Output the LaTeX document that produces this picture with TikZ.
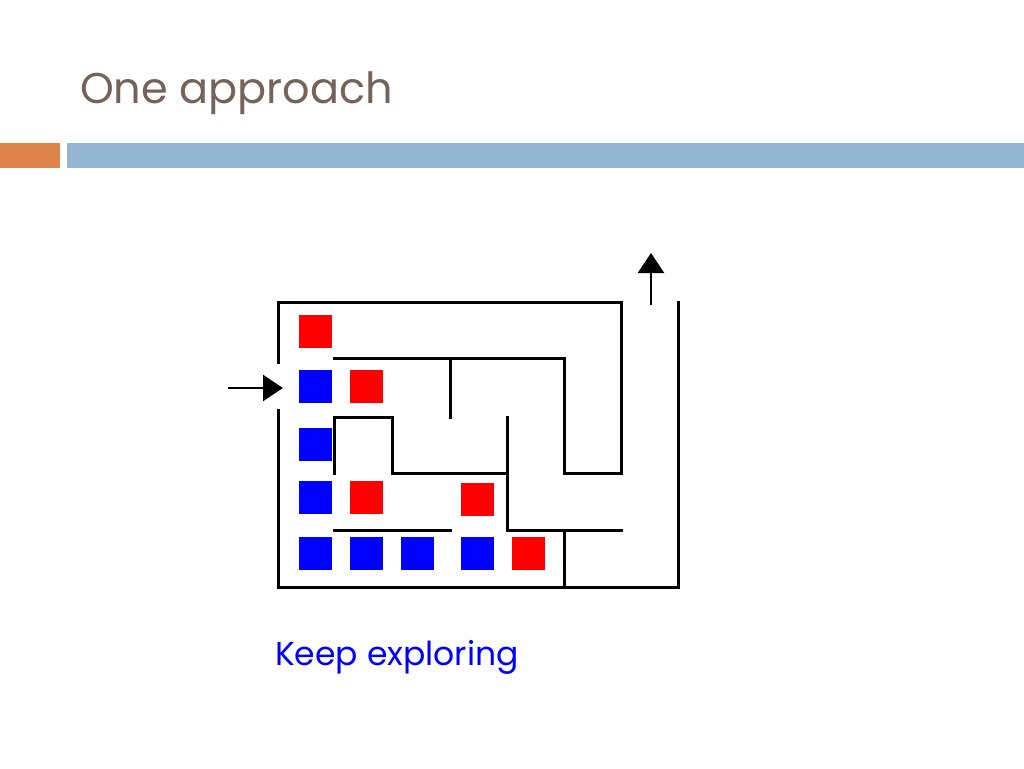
\documentclass[tikz,border=0pt]{standalone}
\usepackage{fontspec}
\usetikzlibrary{arrows.meta}
\setmainfont{Poppins}
\begin{document}
\begin{tikzpicture}[x=1pt,y=-1pt,
 wall/.style={line width=3pt,line cap=rect},
 rsq/.style={fill=red,draw=none,minimum size=33pt,inner sep=0,anchor=north west},
 bsq/.style={fill=blue,draw=none,minimum size=33pt,inner sep=0,anchor=north west},
 arr/.style={line width=2.5pt,-{Triangle[length=20pt,width=26pt]}}]
\useasboundingbox (0,0) rectangle (1024,768);
\fill[fill={rgb,255:red,221;green,132;blue,74}] (0,143) rectangle (60,168);
\fill[fill={rgb,255:red,148;green,182;blue,210}] (67,143) rectangle (1024,168);
\node[anchor=base west,inner sep=0,text={rgb,255:red,117;green,98;blue,89},font=\fontsize{43}{48}\selectfont] (title) at (80,103) {One approach};
\draw[wall] (278,362)--(278,302)--(621,302)--(621,473)--(564,473)--(564,358)--(334,358);
\draw[wall] (278,410)--(278,587)--(678,587)--(678,302);
\draw[wall] (450,358)--(450,417);
\draw[wall] (334,473)--(334,417)--(392,417)--(392,473)--(507,473);
\draw[wall] (507,417)--(507,530)--(621,530);
\draw[wall] (334,530)--(450,530);
\draw[wall] (564,530)--(564,587);
\coordinate (a1) at (228,388); \coordinate (a2) at (283,388);
\draw[arr] (a1)--(a2);
\coordinate (b1) at (651,305); \coordinate (b2) at (651,253);
\draw[arr] (b1)--(b2);
\node[rsq] (r1) at (299,315) {};
\node[bsq] (b11) at (299,370) {}; \node[rsq] (r2) at (350,370) {};
\node[bsq] (b12) at (299,428) {};
\node[bsq] (b13) at (299,481) {}; \node[rsq] (r3) at (350,481) {}; \node[rsq] (r4) at (461,483) {};
\node[bsq] (c1) at (299,537) {}; \node[bsq] (c2) at (350,537) {}; \node[bsq] (c3) at (401,537) {}; \node[bsq] (c4) at (461,537) {}; \node[rsq] (c5) at (512,537) {};
\node[anchor=base west,inner sep=0,text=blue,font=\fontsize{33}{38}\selectfont] (keep) at (275,665) {Keep exploring};
\end{tikzpicture}
\end{document}
